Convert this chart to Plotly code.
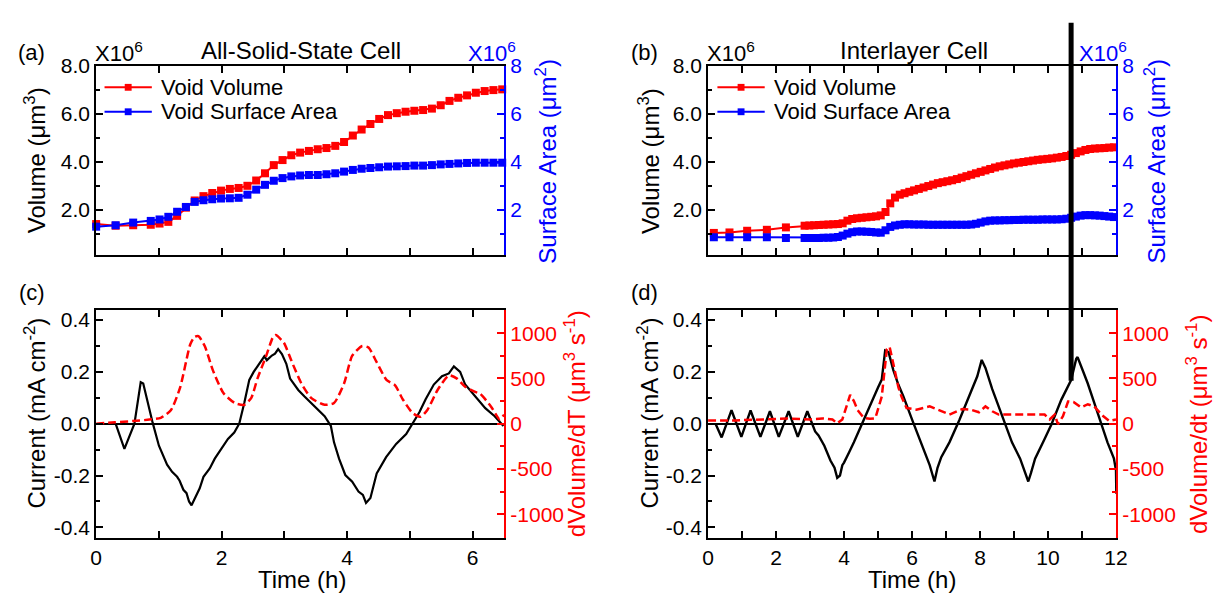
import plotly.graph_objects as go

FONT = "Liberation Sans, Arial, sans-serif"
RED = "#ff0000"
BLUE = "#0000ff"
BLACK = "#000000"

# ---------------- (a) All-Solid-State Cell: void volume / surface area (x10^6) ----------------
time_a = [0.00, 0.31, 0.59, 0.87, 1.01, 1.15, 1.29, 1.43, 1.57, 1.71, 1.85, 1.99, 2.13, 2.27,
          2.41, 2.55, 2.69, 2.83, 2.97, 3.11, 3.25, 3.39, 3.53, 3.67, 3.81, 3.95, 4.09, 4.23,
          4.37, 4.51, 4.65, 4.79, 4.93, 5.07, 5.21, 5.35, 5.49, 5.63, 5.77, 5.91, 6.05, 6.19,
          6.33, 6.47, 6.85]
volume_a = [1.42, 1.35, 1.37, 1.39, 1.44, 1.51, 1.76, 2.10, 2.40, 2.58, 2.71, 2.81, 2.88, 2.92,
            3.01, 3.23, 3.53, 3.87, 4.08, 4.28, 4.39, 4.46, 4.53, 4.58, 4.67, 4.83, 5.10, 5.35,
            5.58, 5.79, 5.95, 6.03, 6.09, 6.13, 6.16, 6.22, 6.36, 6.54, 6.67, 6.77, 6.88, 6.95,
            6.99, 7.02, 7.45]
area_a = [1.31, 1.37, 1.48, 1.55, 1.61, 1.72, 1.93, 2.13, 2.34, 2.41, 2.45, 2.48, 2.49, 2.51,
          2.64, 2.85, 3.05, 3.22, 3.33, 3.40, 3.44, 3.46, 3.46, 3.49, 3.53, 3.60, 3.67, 3.72,
          3.75, 3.78, 3.81, 3.82, 3.83, 3.85, 3.85, 3.87, 3.90, 3.92, 3.94, 3.96, 3.97, 3.97,
          3.97, 3.97, 3.87]

# ---------------- (b) Interlayer Cell: void volume / surface area (x10^6) ----------------
time_b = [0.17, 0.63, 1.15, 1.73, 2.29,
          2.84, 2.98, 3.12, 3.26, 3.40, 3.54, 3.68, 3.82, 3.96, 4.10, 4.24, 4.38, 4.52, 4.66,
          4.80, 4.94, 5.08, 5.22, 5.36, 5.50, 5.64, 5.78, 5.92, 6.06, 6.20, 6.34, 6.48, 6.62,
          6.76, 6.90, 7.04, 7.18, 7.32, 7.46, 7.60, 7.74, 7.88, 8.02, 8.16, 8.30, 8.44, 8.58,
          8.72, 8.86, 9.00, 9.14, 9.28, 9.42, 9.56, 9.70, 9.84, 9.98, 10.12, 10.26, 10.40,
          10.54, 10.68, 10.82, 10.96, 11.10, 11.24, 11.38, 11.52, 11.66, 11.80, 11.94, 12.08]
volume_b = [1.05, 1.07, 1.14, 1.18, 1.28,
            1.35, 1.36, 1.37, 1.38, 1.39, 1.40, 1.41, 1.42, 1.45, 1.56, 1.63, 1.66, 1.68, 1.70,
            1.72, 1.74, 1.78, 1.92, 2.28, 2.52, 2.64, 2.70, 2.76, 2.82, 2.88, 2.94, 3.00, 3.06,
            3.12, 3.16, 3.20, 3.24, 3.29, 3.35, 3.41, 3.47, 3.53, 3.59, 3.65, 3.71, 3.77, 3.82,
            3.86, 3.90, 3.94, 3.97, 4.00, 4.03, 4.06, 4.09, 4.11, 4.13, 4.15, 4.18, 4.21,
            4.25, 4.30, 4.37, 4.44, 4.50, 4.54, 4.56, 4.57, 4.58, 4.60, 4.61, 4.62]
area_b = [0.87, 0.87, 0.87, 0.87, 0.84,
          0.84, 0.84, 0.84, 0.84, 0.85, 0.85, 0.86, 0.88, 0.94, 1.02, 1.08, 1.11, 1.11, 1.10,
          1.09, 1.07, 1.06, 1.16, 1.30, 1.36, 1.39, 1.41, 1.41, 1.40, 1.40, 1.40, 1.39, 1.39,
          1.39, 1.39, 1.39, 1.39, 1.39, 1.39, 1.39, 1.40, 1.43, 1.48, 1.53, 1.56, 1.57, 1.57,
          1.58, 1.58, 1.59, 1.59, 1.60, 1.60, 1.60, 1.60, 1.61, 1.61, 1.61, 1.61, 1.62,
          1.64, 1.68, 1.73, 1.77, 1.79, 1.79, 1.78, 1.77, 1.75, 1.73, 1.71, 1.70]

# ---------------- (c) All-Solid-State Cell: current and dVolume/dT ----------------
time_c_current = [0.31, 0.45, 0.61, 0.68, 0.71, 0.75, 0.82, 0.90, 1.00, 1.13, 1.21, 1.29, 1.33,
                  1.39, 1.44, 1.48, 1.52, 1.55, 1.57, 1.65, 1.71, 1.81, 1.89, 2.00, 2.10, 2.20,
                  2.28, 2.36, 2.44, 2.51, 2.62, 2.68, 2.72, 2.80, 2.85, 2.90, 2.96, 3.03, 3.09,
                  3.22, 3.32, 3.48, 3.64, 3.74, 3.79, 3.87, 3.97, 4.08, 4.18, 4.25, 4.30, 4.37,
                  4.47, 4.62, 4.78, 4.94, 5.04, 5.15, 5.25, 5.38, 5.51, 5.62, 5.70, 5.80, 5.88,
                  5.99, 6.09, 6.20, 6.35, 6.49]
current_c = [0.000, -0.097, 0.000, 0.100, 0.160, 0.155, 0.080, 0.004, -0.085, -0.158, -0.186,
             -0.205, -0.220, -0.255, -0.268, -0.300, -0.315, -0.300, -0.293, -0.249, -0.205,
             -0.173, -0.135, -0.097, -0.059, -0.034, 0.000, 0.080, 0.169, 0.200, 0.238, 0.260,
             0.245, 0.263, 0.270, 0.288, 0.269, 0.231, 0.174, 0.130, 0.105, 0.067, 0.029,
             -0.009, -0.072, -0.135, -0.198, -0.224, -0.262, -0.275, -0.306, -0.287, -0.192,
             -0.129, -0.078, -0.040, 0.000, 0.044, 0.094, 0.151, 0.183, 0.194, 0.221, 0.200,
             0.151, 0.120, 0.094, 0.060, 0.029, -0.009]
time_c_rate = [0.00, 0.30, 0.58, 0.85, 1.03, 1.19, 1.34, 1.50, 1.57, 1.63, 1.73, 1.86, 2.03,
               2.21, 2.36, 2.47, 2.57, 2.71, 2.82, 2.86, 2.99, 3.11, 3.27, 3.43, 3.64, 3.79,
               3.95, 4.08, 4.24, 4.34, 4.47, 4.63, 4.76, 4.89, 5.04, 5.17, 5.28, 5.44, 5.62,
               5.75, 5.88, 6.03, 6.12, 6.29, 6.43, 6.50]
rate_c = [0, 15, 29, 45, 65, 148, 405, 878, 960, 968, 859, 589, 336, 228, 209, 282, 498, 751,
          960, 979, 896, 697, 444, 282, 209, 228, 444, 751, 859, 841, 679, 480, 426, 264, 119,
          76, 155, 372, 534, 498, 408, 354, 330, 191, 47, 100]

# ---------------- (d) Interlayer Cell: current and dVolume/dt ----------------
time_d_current = [0.22, 0.40, 0.69, 0.98, 1.25, 1.54, 1.82, 2.08, 2.37, 2.64, 2.92, 3.15, 3.25,
                  3.42, 3.60, 3.72, 3.80, 3.88, 3.95, 4.00, 4.15, 4.29, 4.53, 4.70, 4.87, 5.00,
                  5.11, 5.21, 5.31, 5.45, 5.60, 5.74, 6.03, 6.32, 6.52, 6.66, 6.75, 6.86, 7.10,
                  7.39, 7.68, 7.92, 8.05, 8.16, 8.36, 8.65, 8.94, 9.18, 9.42, 9.50, 9.62, 9.90,
                  10.10, 10.39, 10.60, 10.68, 10.83, 10.87, 11.02, 11.17, 11.46, 11.75, 11.94,
                  12.00, 12.01]
current_d = [0.000, -0.053, 0.052, -0.051, 0.051, -0.051, 0.048, -0.051, 0.048, -0.051, 0.048,
             -0.030, -0.045, -0.085, -0.142, -0.170, -0.209, -0.200, -0.160, -0.150, -0.110,
             -0.072, 0.000, 0.050, 0.107, 0.140, 0.170, 0.282, 0.276, 0.207, 0.150, 0.107,
             0.006, -0.095, -0.160, -0.223, -0.170, -0.129, -0.072, 0.013, 0.107, 0.183,
             0.246, 0.215, 0.133, 0.032, -0.072, -0.135, -0.223, -0.190, -0.135, -0.059,
             -0.003, 0.092, 0.150, 0.168, 0.250, 0.257, 0.206, 0.155, 0.042, -0.072, -0.135,
             -0.180, -0.270]
time_d_rate = [0.00, 0.80, 1.62, 2.32, 3.02, 3.36, 3.66, 3.80, 3.95, 4.06, 4.18, 4.29, 4.40,
               4.58, 4.76, 4.92, 5.11, 5.26, 5.34, 5.45, 5.60, 5.69, 5.84, 6.13, 6.52, 6.81,
               7.10, 7.48, 7.73, 7.97, 8.16, 8.36, 8.55, 9.13, 9.90, 10.05, 10.20, 10.29,
               10.44, 10.59, 10.75, 10.97, 11.17, 11.36, 11.60, 11.80, 12.00]
rate_d = [36, 36, 47, 58, 47, 58, 47, 4, 47, 191, 318, 250, 150, 65, 54, 60, 300, 824, 849,
          661, 400, 300, 173, 155, 191, 148, 101, 162, 155, 126, 191, 137, 101, 101, 101, 47,
          101, -6, 83, 245, 240, 180, 215, 190, 90, 30, 47]

# legend entries of the two upper panels
legend_names = ["Void Volume", "Void Surface Area"]
legend_colors = [RED, BLUE]

# tick labels
vol_ticks = [2, 4, 6, 8]
vol_ticktext = ["2.0", "4.0", "6.0", "8.0"]
area_ticktext = ["2", "4", "6", "8"]
cur_ticks = [-0.4, -0.2, 0.0, 0.2, 0.4]
cur_ticktext = ["-0.4", "-0.2", "0.0", "0.2", "0.4"]
rate_ticks = [-1000, -500, 0, 500, 1000]
rate_ticktext = ["-1000", "-500", "0", "500", "1000"]

# ---------------- layout geometry (pixels of a 1228 x 594 canvas) ----------------
W, H = 1228, 594


def px(x):
    return x / W


def py(y):
    return 1 - y / H


dom_top = [py(248), py(55)]
dom_bot = [py(537.5), py(304.3)]
dom_left = [px(91.5), px(505.5)]
dom_right = [px(712.5), px(1126.5)]


def axis(color, tickvals=None, ticktext=None, minor_vals=None, **kw):
    d = dict(showline=True, linecolor=color, linewidth=2, ticks="inside", ticklen=7,
             tickwidth=2, tickcolor=color, showgrid=False, zeroline=False,
             tickfont=dict(family=FONT, size=21, color=color))
    if tickvals is not None:
        d.update(tickmode="array", tickvals=tickvals)
    if ticktext is not None:
        d.update(ticktext=ticktext)
    if minor_vals is not None:
        d["minor"] = dict(tickmode="array", tickvals=minor_vals, ticks="inside", ticklen=4,
                          tickwidth=2, tickcolor=color)
    d.update(kw)
    return d


fig = go.Figure()

sq = dict(symbol="square", size=8)
fig.add_trace(go.Scatter(x=time_a, y=volume_a, mode="lines+markers", name=legend_names[0],
                         line=dict(color=RED, width=2), marker=dict(color=RED, **sq),
                         xaxis="x", yaxis="y", showlegend=False, cliponaxis=False))
fig.add_trace(go.Scatter(x=time_a, y=area_a, mode="lines+markers", name=legend_names[1],
                         line=dict(color=BLUE, width=2), marker=dict(color=BLUE, **sq),
                         xaxis="x", yaxis="y2", showlegend=False, cliponaxis=False))
fig.add_trace(go.Scatter(x=time_b, y=volume_b, mode="lines+markers", name=legend_names[0],
                         line=dict(color=RED, width=2), marker=dict(color=RED, **sq),
                         xaxis="x2", yaxis="y3", showlegend=False, cliponaxis=False))
fig.add_trace(go.Scatter(x=time_b, y=area_b, mode="lines+markers", name=legend_names[1],
                         line=dict(color=BLUE, width=2), marker=dict(color=BLUE, **sq),
                         xaxis="x2", yaxis="y4", showlegend=False, cliponaxis=False))

fig.add_trace(go.Scatter(x=time_c_current, y=current_c, mode="lines", showlegend=False,
                         line=dict(color=BLACK, width=2.2), xaxis="x3", yaxis="y5"))
fig.add_trace(go.Scatter(x=time_c_rate, y=rate_c, mode="lines", showlegend=False,
                         line=dict(color=RED, width=2.5, dash="8px,4px", shape="spline",
                                   smoothing=0.6),
                         xaxis="x3", yaxis="y6"))
fig.add_trace(go.Scatter(x=time_d_current, y=current_d, mode="lines", showlegend=False,
                         line=dict(color=BLACK, width=2.4), xaxis="x4", yaxis="y7"))
fig.add_trace(go.Scatter(x=time_d_rate, y=rate_d, mode="lines", showlegend=False,
                         line=dict(color=RED, width=2.5, dash="8px,4px"),
                         xaxis="x4", yaxis="y8"))

x_short_minor = [1, 3, 5]
x_long_minor = [1, 3, 5, 7, 9, 11]
vol_minor = [1, 3, 5, 7]
cur_minor = [-0.3, -0.1, 0.1, 0.3]
rate_minor = [-1250, -750, -250, 250, 750, 1250]

vol_range = [0.15, 8.0]
cur_range = [-0.44, 0.44]
rate_range = [-1260, 1260]

fig.update_layout(
    width=W, height=H, autosize=False,
    margin=dict(l=0, r=0, t=0, b=0),
    paper_bgcolor="white", plot_bgcolor="white",
    font=dict(family=FONT, size=21, color=BLACK),
    showlegend=False,
    xaxis=axis(BLACK, [0, 2, 4, 6], None, x_short_minor, domain=dom_left, anchor="y",
               range=[0, 6.5], showticklabels=False, mirror="allticks"),
    yaxis=axis(BLACK, vol_ticks, vol_ticktext, vol_minor, domain=dom_top, anchor="x",
               range=vol_range),
    yaxis2=axis(BLUE, vol_ticks, area_ticktext, vol_minor, domain=dom_top, anchor="x",
                overlaying="y", side="right", range=vol_range),
    xaxis2=axis(BLACK, [0, 2, 4, 6, 8, 10, 12], None, x_long_minor, domain=dom_right,
                anchor="y3", range=[0, 12], showticklabels=False, mirror="allticks"),
    yaxis3=axis(BLACK, vol_ticks, vol_ticktext, vol_minor, domain=dom_top, anchor="x2",
                range=vol_range),
    yaxis4=axis(BLUE, vol_ticks, area_ticktext, vol_minor, domain=dom_top, anchor="x2",
                overlaying="y3", side="right", range=vol_range),
    xaxis3=axis(BLACK, [0, 2, 4, 6], None, x_short_minor, domain=dom_left, anchor="y5",
                range=[0, 6.5], mirror="allticks"),
    yaxis5=axis(BLACK, cur_ticks, cur_ticktext, cur_minor, domain=dom_bot, anchor="x3",
                range=cur_range, zeroline=True, zerolinecolor=BLACK, zerolinewidth=2),
    yaxis6=axis(RED, rate_ticks, rate_ticktext, rate_minor, domain=dom_bot, anchor="x3",
                overlaying="y5", side="right", range=rate_range),
    xaxis4=axis(BLACK, [0, 2, 4, 6, 8, 10, 12], None, x_long_minor, domain=dom_right,
                anchor="y7", range=[0, 12], mirror="allticks"),
    yaxis7=axis(BLACK, cur_ticks, cur_ticktext, cur_minor, domain=dom_bot, anchor="x4",
                range=cur_range, zeroline=True, zerolinecolor=BLACK, zerolinewidth=2),
    yaxis8=axis(RED, rate_ticks, rate_ticktext, rate_minor, domain=dom_bot, anchor="x4",
                overlaying="y7", side="right", range=rate_range),
)

annotations = []
shapes = []


def label(text, x, y, size=21, color=BLACK, angle=0, xanchor="center"):
    annotations.append(dict(text=text, x=px(x), y=py(y), xref="paper", yref="paper",
                            showarrow=False, textangle=angle, xanchor=xanchor,
                            yanchor="middle",
                            font=dict(family=FONT, size=size, color=color)))


# panel letters and titles
label("(a)", 26, 41, size=22)
label("(b)", 648, 41, size=22)
label("(c)", 26, 287, size=22)
label("(d)", 648, 287, size=22)
label("All-Solid-State Cell", 299, 39, size=24)
label("Interlayer Cell", 921, 39, size=24)
label("X10<sup>6</sup>", 88, 41, size=22, xanchor="left")
label("X10<sup>6</sup>", 467, 41, size=22, color=BLUE, xanchor="left")
label("X10<sup>6</sup>", 709, 41, size=22, xanchor="left")
label("X10<sup>6</sup>", 1087, 41, size=22, color=BLUE, xanchor="left")

# axis titles
label("Volume (μm<sup>3</sup>)", 29, 152, size=24, angle=-90)
label("Surface Area (μm<sup>2</sup>)", 548, 152, size=24, color=BLUE, angle=-90)
label("Volume (μm<sup>3</sup>)", 652, 152, size=24, angle=-90)
label("Surface Area (μm<sup>2</sup>)", 1166, 152, size=24, color=BLUE, angle=-90)
label("Current (mA cm<sup>-2</sup>)", 29, 410, size=24, angle=-90)
label("dVolume/dT (μm<sup>3</sup> s<sup>-1</sup>)", 577, 421, size=24, color=RED, angle=-90)
label("Current (mA cm<sup>-2</sup>)", 652, 410, size=24, angle=-90)
label("dVolume/dt (μm<sup>3</sup> s<sup>-1</sup>)", 1208, 421, size=24, color=RED, angle=-90)
label("Time (h)", 300, 580, size=24)
label("Time (h)", 919, 580, size=24)

# legend keys (line with a square marker) and entry texts
for left in (100, 722):
    for row, (name, color) in enumerate(zip(legend_names, legend_colors)):
        yc = 77 + 25 * row
        shapes.append(dict(type="line", xref="paper", yref="paper", x0=px(left),
                           x1=px(left + 48), y0=py(yc), y1=py(yc),
                           line=dict(color=color, width=2)))
        shapes.append(dict(type="rect", xref="paper", yref="paper", x0=px(left + 20.5),
                           x1=px(left + 27.5), y0=py(yc + 3.5), y1=py(yc - 3.5),
                           line=dict(width=0), fillcolor=color))
        label(name, left + 55, yc, size=22, xanchor="left")

# vertical marker line crossing panels (b) and (d)
shapes.append(dict(type="line", xref="x2", yref="paper", x0=10.68, x1=10.68,
                   y0=py(377), y1=py(11), line=dict(color=BLACK, width=5), layer="above"))

fig.update_layout(annotations=annotations, shapes=shapes)

fig.write_html("out.html")
